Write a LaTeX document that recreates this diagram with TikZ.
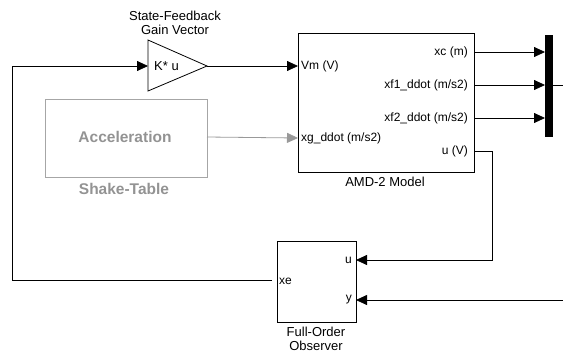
\documentclass[tikz,border=0pt]{standalone}
\usepackage{fontspec}
\setmainfont{Liberation Sans}
\usetikzlibrary{arrows.meta}
\begin{document}
\begin{tikzpicture}[x=1pt,y=-1pt,
  lbl/.style={font=\fontsize{13}{14}\selectfont, inner sep=0pt},
  plbl/.style={font=\fontsize{12}{13}\selectfont, inner sep=0pt},
  wire/.style={line width=0.8pt},
  arr/.style={wire,-{Triangle[length=11pt,width=10pt]}},
  garr/.style={line width=0.8pt,gray!80,-{Triangle[length=11pt,width=10pt]}}]
\useasboundingbox (0,0) rectangle (563,354);
% gain
\draw[line width=0.8pt] (148,40) -- (148,91) -- (207,66) -- cycle;
\coordinate (gin) at (148,66);
\coordinate (gout) at (207,66);
\node[lbl, anchor=west] (gk) at (154,66) {K* u};
\node[lbl, align=center] (gt) at (175,23) {State-Feedback\\Gain Vector};
% shake table
\draw[line width=0.8pt, gray!70] (45,99) rectangle (207,177);
\node[lbl, font=\fontsize{15.5}{17}\selectfont\bfseries, text=gray!85] (acc) at (125,137) {Acceleration};
\node[lbl, font=\fontsize{15.5}{17}\selectfont\bfseries, text=gray!85] (st) at (124,189) {Shake-Table};
\coordinate (accout) at (207,137);
% AMD
\draw[line width=0.8pt] (298,33) rectangle (474,172);
\coordinate (vm) at (298,66);
\coordinate (xg) at (298,138);
\coordinate (oxc) at (474,52);
\coordinate (ox1) at (474,85);
\coordinate (ox2) at (474,118);
\coordinate (ou) at (474,151);
\node[plbl, anchor=west] (lvm) at (301,66) {Vm (V)};
\node[plbl, anchor=west] (lxg) at (301,138) {xg\_ddot (m/s2)};
\node[plbl, anchor=east] (lxc) at (468,52) {xc (m)};
\node[plbl, anchor=east] (lx1) at (468,85) {xf1\_ddot (m/s2)};
\node[plbl, anchor=east] (lx2) at (468,118) {xf2\_ddot (m/s2)};
\node[plbl, anchor=east] (lu) at (468,151) {u (V)};
\node[lbl] (amd) at (385,182) {AMD-2 Model};
% mux
\fill (545,35) rectangle (553,137);
\coordinate (m1) at (545,52);
\coordinate (m2) at (545,85);
\coordinate (m3) at (545,118);
\coordinate (mout) at (553,85);
\coordinate (mend) at (563,85);
% observer
\draw[line width=0.8pt] (277,241) rectangle (356,322);
\coordinate (obu) at (356,260);
\coordinate (oby) at (356,300);
\coordinate (obxe) at (272,280);
\node[plbl, anchor=east] (lobu) at (352,260) {u};
\node[plbl, anchor=east] (loby) at (352,300) {y};
\node[plbl, anchor=west] (lobxe) at (279,281) {xe};
\node[lbl, align=center] (obt) at (316,339) {Full-Order\\Observer};
\coordinate (yin) at (563,300);
% wires
\draw[arr] (obxe) -- (12,280) -- (12,66) -- (gin);
\draw[arr] (gout) -- (vm);
\draw[garr] (accout) -- (xg);
\draw[arr] (oxc) -- (m1);
\draw[arr] (ox1) -- (m2);
\draw[arr] (ox2) -- (m3);
\draw[wire] (mout) -- (mend);
\draw[arr] (ou) -- (492,151) -- (492,260) -- (obu);
\draw[arr] (yin) -- (oby);
\end{tikzpicture}
\end{document}
